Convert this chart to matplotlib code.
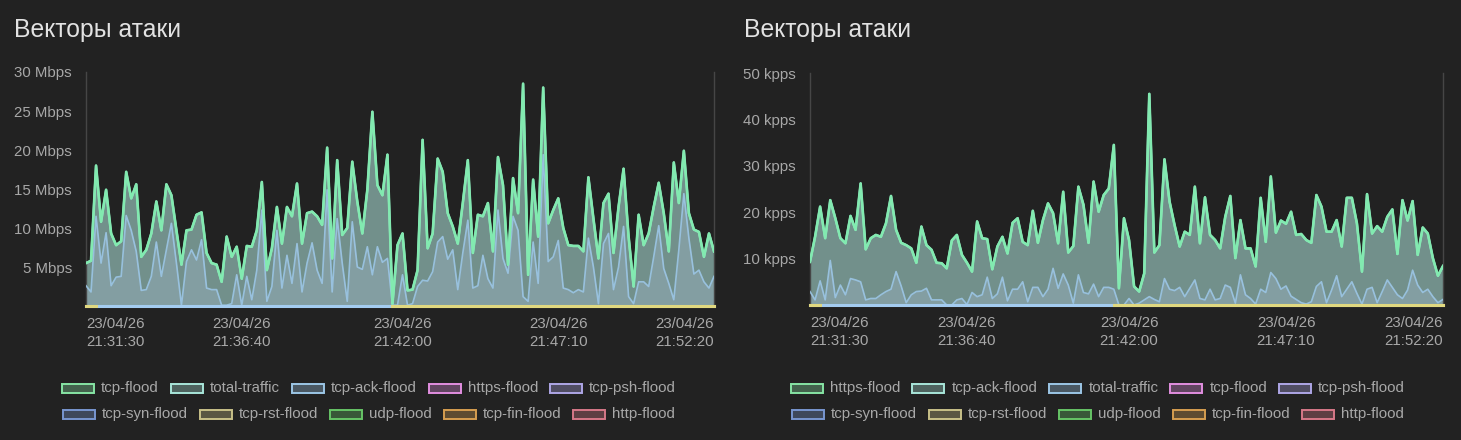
from datetime import datetime, timedelta

import matplotlib
matplotlib.use('Agg')
import matplotlib.pyplot as plt
from matplotlib.patches import Rectangle
from matplotlib.ticker import FixedLocator, FuncFormatter
import numpy as np

plt.rcParams['font.family'] = ['Liberation Sans', 'DejaVu Sans']

W, H = 1461, 440
BG = '#222222'
TICK_COLOR = '#a8a8a8'
TITLE = 'Векторы атаки'

start_time = datetime(2026, 4, 23, 21, 31, 30)
step_s = 10
tick_offsets = [0, 310, 630, 940, 1250]

# palette by legend position
colors = ['#86e4a4', '#a8e6da', '#9cc6e6', '#e28ee0', '#aea6e6',
          '#7896d0', '#c8c088', '#66c466', '#d69e50', '#d67888']

# ---- left chart (Mbps) ----
left_labels = ['tcp-flood', 'total-traffic', 'tcp-ack-flood', 'https-flood', 'tcp-psh-flood',
               'tcp-syn-flood', 'tcp-rst-flood', 'udp-flood', 'tcp-fin-flood', 'http-flood']

tcp_flood_mbps = [
    5.5, 5.8, 18.0, 10.8, 14.9, 9.3, 7.8, 8.3, 17.2, 13.8, 15.6, 6.3, 7.2, 9.3, 13.4,
    9.7, 15.6, 14.2, 9.7, 5.3, 9.7, 9.8, 11.7, 12.0, 6.8, 5.5, 5.3, 3.1, 8.9, 6.3,
    7.6, 3.5, 7.7, 7.6, 9.7, 15.9, 4.6, 7.4, 12.7, 8.0, 12.7, 11.5, 15.7,
    8.0, 11.9, 12.1, 11.5, 10.4, 20.3, 6.1, 18.7, 9.1, 10.0, 18.5, 13.4, 9.3, 14.9,
    24.9, 15.5, 14.2, 19.4, 0.3, 7.8, 9.3, 2.0, 2.1, 4.6, 21.3, 7.4, 9.3, 18.9,
    17.2, 11.9, 10.2, 8.0, 13.2, 18.7, 6.8, 11.7, 11.5, 13.2, 7.0, 19.1, 15.5,
    5.3, 16.4, 11.9, 28.5, 4.0, 16.2, 8.9, 28.0, 10.6, 12.3, 13.8, 10.0, 7.8, 7.7,
    7.7, 7.0, 16.5, 11.2, 6.1, 13.2, 14.4, 6.8, 12.7, 17.6, 8.9, 2.5, 11.7, 7.8,
    9.3, 12.7, 15.8, 11.9, 7.0, 18.4, 13.2, 19.9, 11.9, 9.8, 9.5, 6.3, 9.3, 7.0,
]
total_traffic_mbps = tcp_flood_mbps  # drawn underneath, same readings
tcp_ack_flood_mbps = [
    2.6, 1.8, 11.5, 5.5, 9.4, 2.6, 3.7, 3.8, 11.6, 9.7, 7.0, 2.0, 2.1, 3.8, 8.2,
    3.8, 7.2, 10.6, 5.5, 0.1, 5.7, 7.2, 5.9, 8.5, 2.3, 2.1, 2.1, 0.1, 0.1, 0.3,
    4.0, 0.1, 3.8, 0.8, 4.6, 12.3, 0.6, 2.5, 9.7, 2.3, 6.5, 2.9, 8.0,
    1.8, 5.5, 8.1, 4.6, 2.9, 14.9, 1.8, 11.2, 5.5, 0.6, 10.8, 5.0, 4.7, 7.6,
    4.0, 7.6, 5.6, 6.1, 0.1, 0.1, 4.0, 0.1, 0.3, 2.5, 3.3, 3.2, 4.4, 8.2,
    8.9, 6.0, 7.2, 2.1, 6.8, 11.0, 2.3, 2.6, 6.5, 3.5, 2.3, 12.3, 6.1,
    4.2, 11.5, 9.7, 1.2, 0.6, 8.2, 2.9, 19.4, 5.7, 6.3, 8.4, 2.3, 2.1, 1.7,
    2.1, 1.8, 8.7, 5.0, 0.3, 8.0, 9.3, 2.1, 5.0, 10.2, 1.2, 0.3, 3.1, 3.1,
    2.5, 6.3, 10.3, 4.8, 2.9, 0.8, 7.2, 14.4, 8.7, 4.1, 4.6, 3.1, 2.3, 3.8,
]
left_rst_start = 61   # yellow zero series visible from this sample on

# ---- right chart (kpps) ----
right_labels = ['https-flood', 'tcp-ack-flood', 'total-traffic', 'tcp-flood', 'tcp-psh-flood',
                'tcp-syn-flood', 'tcp-rst-flood', 'udp-flood', 'tcp-fin-flood', 'http-flood']

https_flood_kpps = [
    9.3, 14.7, 21.2, 14.4, 22.6, 18.7, 14.4, 13.3, 19.2, 16.2, 26.2, 12.0, 14.4, 15.1,
    14.7, 17.6, 23.5, 16.2, 13.4, 12.9, 12.2, 9.1, 16.9, 12.9, 11.9, 9.1, 9.0, 7.9,
    13.9, 15.1, 10.8, 9.1, 7.2, 18.0, 14.4, 14.2, 7.7, 12.6, 14.7, 11.1, 17.7, 18.7,
    13.6, 12.9, 20.3, 13.4, 18.3, 21.9, 19.8, 13.3, 24.4, 11.3, 12.7, 25.5, 21.6, 13.4,
    26.6, 20.1, 23.7, 25.1, 34.5, 3.6, 18.7, 14.0, 4.0, 2.9, 6.8, 45.5, 11.3, 12.9,
    31.4, 22.3, 17.2, 12.6, 15.8, 15.1, 25.5, 13.3, 23.2, 15.1, 14.0, 12.2, 19.0,
    23.5, 10.1, 18.3, 12.2, 12.2, 8.3, 23.1, 13.6, 27.7, 15.6, 18.2, 17.5, 20.1, 15.1,
    15.3, 14.0, 13.4, 23.7, 21.2, 15.8, 15.8, 18.3, 12.6, 23.1, 23.1, 17.6, 7.2, 23.9,
    15.4, 17.0, 15.8, 19.0, 20.6, 11.0, 22.6, 18.2, 22.4, 10.8, 16.7, 15.4, 10.1, 6.3, 8.4,
]
tcp_ack_flood_kpps = https_flood_kpps  # drawn underneath, same readings
total_traffic_kpps = [
    2.9, 1.1, 5.2, 1.1, 9.6, 1.6, 4.3, 2.2, 5.7, 5.4, 5.0, 1.1, 1.4, 1.4,
    2.2, 2.9, 3.4, 7.2, 4.1, 0.5, 2.2, 2.9, 3.0, 3.6, 1.1, 1.1, 1.1, 0.0,
    0.0, 1.1, 1.4, 0.1, 2.7, 1.8, 2.2, 6.0, 1.4, 2.4, 6.0, 0.9, 3.4, 3.4,
    5.0, 0.7, 3.8, 3.8, 1.8, 3.4, 7.9, 3.6, 6.7, 4.3, 0.4, 6.5, 2.7, 2.4,
    4.5, 1.8, 3.8, 3.8, 3.4, 0.0, 0.0, 1.4, 0.0, 0.4, 1.1, 1.8, 1.2, 0.7,
    5.7, 3.4, 3.1, 3.8, 1.8, 3.6, 5.4, 1.4, 1.1, 3.4, 1.1, 1.4, 4.3,
    3.8, 0.4, 6.5, 2.2, 1.4, 0.2, 3.4, 2.7, 7.0, 5.7, 3.4, 4.1, 1.9, 1.2,
    0.5, 0.2, 0.7, 4.0, 5.0, 0.5, 3.2, 6.3, 1.8, 3.4, 5.0, 2.5, 0.2, 3.4,
    3.8, 0.5, 2.9, 5.4, 3.8, 2.2, 1.4, 3.2, 7.5, 4.3, 2.7, 3.4, 1.8, 0.5, 1.2,
]
right_rst_start = 60


def time_label(offset):
    t = start_time + timedelta(seconds=float(offset))
    return t.strftime('%d/%m/%y\n%H:%M:%S')


def draw_panel(ax, top, top_twin, lower, rst_start, ymax, yticks, unit):
    n = len(top)
    x = np.arange(n) * step_s
    zero = np.zeros(n)

    ax.set_facecolor(BG)
    ax.fill_between(x, top, color='#72908b', lw=0, zorder=1)
    ax.fill_between(x, lower, color='#839ea2', lw=0, zorder=2)
    ax.plot(x, lower, color=colors[2], lw=1.2, alpha=0.9, zorder=3)
    ax.plot(x, top_twin, color=colors[1], lw=1.6, zorder=4)
    ax.plot(x, top, color='#82eab0', lw=1.9, zorder=5)

    # zero-valued vectors along the base
    ax.plot(x, zero, color='#a4ccf0', lw=2.2, zorder=6, clip_on=False)
    rst = np.where(np.arange(n) >= rst_start, 0.0, np.nan)
    rst[:3] = 0.0
    ax.plot(x, rst, color='#e0d880', lw=2.2, zorder=7, clip_on=False)

    ax.set_xlim(0, x[-1])
    ax.set_ylim(0, ymax)
    ax.yaxis.set_major_locator(FixedLocator(yticks))
    ax.yaxis.set_major_formatter(FuncFormatter(lambda v, p: f'{v:g} {unit}'))
    ax.xaxis.set_major_locator(FixedLocator(tick_offsets))
    ax.xaxis.set_major_formatter(FuncFormatter(lambda v, p: time_label(v)))
    ax.tick_params(length=0, colors=TICK_COLOR, labelsize=10.8)
    ax.tick_params(axis='y', pad=10)
    ax.tick_params(axis='x', pad=8)
    labs = ax.get_xticklabels()
    for lab in labs:
        lab.set_linespacing(1.35)
    labs[0].set_ha('left')
    labs[-1].set_ha('right')

    for side in ('top', 'bottom'):
        ax.spines[side].set_visible(False)
    for side in ('left', 'right'):
        ax.spines[side].set_color('#464646')
        ax.spines[side].set_linewidth(1.0)


def draw_legend(fig, labels, center_x, rows_y):
    renderer = fig.canvas.get_renderer()
    box_w, box_h, gap_txt, gap_item = 32, 9, 7, 12
    for r, y in enumerate(rows_y):
        items = list(range(r * 5, r * 5 + 5))
        texts = []
        for i in items:
            t = fig.text(0, 1 - y / H, labels[i], color=TICK_COLOR, fontsize=10.8,
                         va='center', ha='left')
            texts.append(t)
        widths = [t.get_window_extent(renderer).width for t in texts]
        total = sum(box_w + gap_txt + w for w in widths) + gap_item * (len(items) - 1)
        cx = center_x - total / 2
        for i, t, w in zip(items, texts, widths):
            rect = Rectangle((cx / W, 1 - (y + box_h / 2) / H), box_w / W, box_h / H,
                             transform=fig.transFigure, facecolor=colors[i] + '55',
                             edgecolor=colors[i], lw=1.4)
            fig.patches.append(rect)
            t.set_x((cx + box_w + gap_txt) / W)
            cx += box_w + gap_txt + w + gap_item


fig = plt.figure(figsize=(W / 100, H / 100), dpi=100, facecolor=BG)

ax1 = fig.add_axes([86 / W, 1 - 306 / H, 628 / W, 234 / H])
draw_panel(ax1, tcp_flood_mbps, total_traffic_mbps, tcp_ack_flood_mbps,
           left_rst_start, 30, [5, 10, 15, 20, 25, 30], 'Mbps')

ax2 = fig.add_axes([810 / W, 1 - 305 / H, 633 / W, 232 / H])
draw_panel(ax2, https_flood_kpps, tcp_ack_flood_kpps, total_traffic_kpps,
           right_rst_start, 50, [10, 20, 30, 40, 50], 'kpps')

fig.text(14 / W, 1 - 37 / H, TITLE, color='#e2e2e2', fontsize=17.8, va='baseline', ha='left')
fig.text(744 / W, 1 - 37 / H, TITLE, color='#e2e2e2', fontsize=17.8, va='baseline', ha='left')

fig.canvas.draw()
draw_legend(fig, left_labels, 369, [388, 414])
draw_legend(fig, right_labels, 1098, [388, 414])

fig.savefig('out.png', dpi=100, facecolor=BG)
